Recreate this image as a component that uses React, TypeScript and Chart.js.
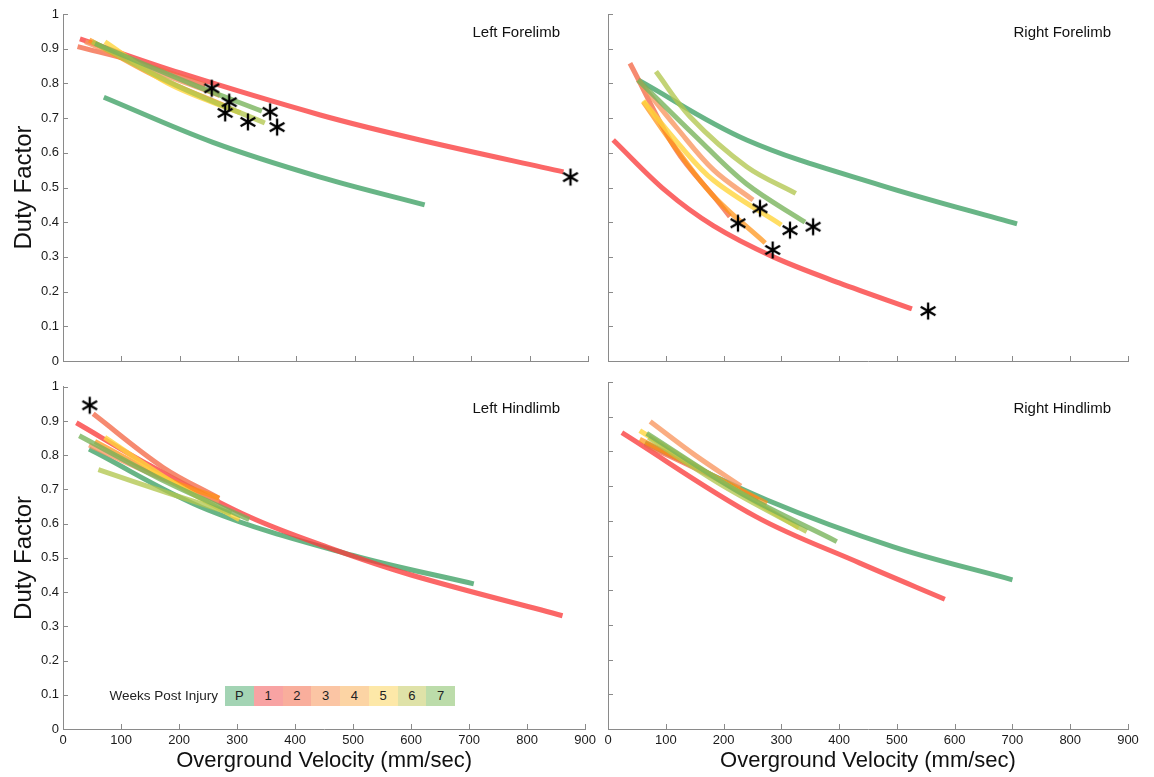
import React, { useEffect, useRef } from 'react';
import { Chart, registerables } from 'chart.js';

Chart.register(...registerables);

const FONT = '"Liberation Sans", Arial, Helvetica, sans-serif';

// ---------- labels / ticks ----------
const WEEKS = ['P', '1', '2', '3', '4', '5', '6', '7'];
const LEGEND_TITLE = 'Weeks Post Injury';
const PANEL_TITLES = ['Left Forelimb', 'Right Forelimb', 'Left Hindlimb', 'Right Hindlimb'];
const X_TITLE = 'Overground Velocity (mm/sec)';
const Y_TITLE = 'Duty Factor';
const X_MIN = 0;
const X_MAX = 900;
const X_STEP = 100;
const Y_MIN = 0;
const Y_MAX = 1;
const Y_STEP = 0.1;

// ---------- Left Forelimb: [velocity, duty factor] ----------
const LF_P = [[70, 0.76], [257, 0.63], [441, 0.53], [620, 0.45]];
const LF_W1 = [[29, 0.928], [201, 0.83], [441, 0.709], [612, 0.637], [858, 0.545]];
const LF_W2 = [[25, 0.906], [130, 0.86], [244, 0.795]];
const LF_W3 = [[38, 0.92], [150, 0.84], [269, 0.765]];
const LF_W4 = [[45, 0.925], [160, 0.82], [278, 0.735]];
const LF_W5 = [[72, 0.92], [180, 0.8], [304, 0.715]];
const LF_W6 = [[50, 0.92], [200, 0.79], [346, 0.686]];
const LF_W7 = [[55, 0.915], [218, 0.8], [341, 0.72]];
const LF_STARS = [[255, 0.786], [285, 0.746], [278, 0.715], [317, 0.689], [355, 0.718], [367, 0.674], [870, 0.53]];

// ---------- Right Forelimb ----------
const RF_P = [[52, 0.81], [240, 0.637], [471, 0.507], [708, 0.395]];
const RF_W1 = [[9, 0.637], [100, 0.49], [182, 0.39], [286, 0.3], [400, 0.225], [526, 0.15]];
const RF_W2 = [[38, 0.858], [118, 0.608], [188, 0.464], [211, 0.416]];
const RF_W3 = [[52, 0.81], [120, 0.67], [183, 0.55], [251, 0.464]];
const RF_W4 = [[61, 0.747], [107, 0.637], [180, 0.48], [272, 0.34]];
const RF_W5 = [[61, 0.75], [120, 0.63], [183, 0.52], [300, 0.392]];
const RF_W6 = [[83, 0.834], [142, 0.704], [240, 0.56], [325, 0.483]];
const RF_W7 = [[52, 0.81], [150, 0.65], [240, 0.51], [341, 0.4]];
const RF_STARS = [[263, 0.44], [225, 0.397], [315, 0.377], [355, 0.387], [285, 0.32], [554, 0.144]];

// ---------- Left Hindlimb ----------
const LH_P = [[45, 0.818], [250, 0.64], [500, 0.507], [708, 0.424]];
const LH_W1 = [[23, 0.895], [150, 0.77], [321, 0.62], [458, 0.53], [600, 0.45], [861, 0.331]];
const LH_W2 = [[52, 0.921], [172, 0.765], [269, 0.674]];
const LH_W3 = [[45, 0.83], [160, 0.74], [269, 0.665]];
const LH_W4 = [[55, 0.84], [180, 0.73], [269, 0.675]];
const LH_W5 = [[72, 0.852], [190, 0.72], [304, 0.612]];
const LH_W6 = [[61, 0.758], [180, 0.69], [290, 0.63]];
const LH_W7 = [[28, 0.857], [180, 0.72], [321, 0.612]];
const LH_STARS = [[46, 0.946]];

// ---------- Right Hindlimb ----------
const RH_P = [[64, 0.825], [275, 0.66], [494, 0.525], [700, 0.43]];
const RH_W1 = [[24, 0.854], [256, 0.612], [436, 0.478], [583, 0.374]];
const RH_W2 = [[64, 0.82], [190, 0.72], [260, 0.66]];
const RH_W3 = [[73, 0.886], [150, 0.79], [230, 0.7]];
const RH_W4 = [[55, 0.835], [170, 0.74], [275, 0.65]];
const RH_W5 = [[55, 0.86], [180, 0.73], [330, 0.58]];
const RH_W6 = [[70, 0.84], [200, 0.7], [344, 0.569]];
const RH_W7 = [[67, 0.852], [230, 0.68], [396, 0.54]];
const RH_STARS: number[][] = [];

// ---------- styles ----------
const LINE_COLORS = [
  'rgba(62,160,100,0.78)',
  'rgba(250,60,60,0.78)',
  'rgba(244,105,72,0.78)',
  'rgba(248,150,95,0.78)',
  'rgba(255,145,20,0.72)',
  'rgba(255,212,60,0.8)',
  'rgba(178,198,80,0.78)',
  'rgba(118,178,88,0.78)',
];
const LEGEND_COLORS = ['#a3d4b4', '#f8a3a3', '#f9ae9c', '#fbc5a4', '#fcd4a4', '#fde8a8', '#dfe2a8', '#bcdcaa'];
const AXIS_COLOR = '#8a8a8a';

const PANELS = [
  { series: [LF_P, LF_W1, LF_W2, LF_W3, LF_W4, LF_W5, LF_W6, LF_W7], stars: LF_STARS, left: 0, top: 0, w: 600, h: 375, padding: { top: 14, right: 12, left: 0, bottom: 0 }, yW: 63, xH: 14, xLabels: false, yLabels: true, titleRight: 560, titleY: 23 },
  { series: [RF_P, RF_W1, RF_W2, RF_W3, RF_W4, RF_W5, RF_W6, RF_W7], stars: RF_STARS, left: 600, top: 0, w: 554, h: 375, padding: { top: 14, right: 26, left: 0, bottom: 0 }, yW: 8, xH: 14, xLabels: false, yLabels: false, titleRight: 1111, titleY: 23 },
  { series: [LH_P, LH_W1, LH_W2, LH_W3, LH_W4, LH_W5, LH_W6, LH_W7], stars: LH_STARS, left: 0, top: 375, w: 600, h: 402, padding: { top: 7, right: 12, left: 0, bottom: 0 }, yW: 63, xH: 48, xLabels: true, yLabels: true, titleRight: 560, titleY: 399 },
  { series: [RH_P, RH_W1, RH_W2, RH_W3, RH_W4, RH_W5, RH_W6, RH_W7], stars: RH_STARS, left: 600, top: 375, w: 554, h: 402, padding: { top: 7, right: 26, left: 0, bottom: 0 }, yW: 8, xH: 48, xLabels: true, yLabels: false, titleRight: 1111, titleY: 399 },
];

function makeAsterisk(): HTMLCanvasElement {
  const c = document.createElement('canvas');
  c.width = 20;
  c.height = 20;
  const ctx = c.getContext('2d')!;
  ctx.strokeStyle = '#000';
  ctx.lineWidth = 2.3;
  ctx.lineCap = 'butt';
  const r = 8.5;
  [90, 30, 150].forEach((deg) => {
    const a = (deg * Math.PI) / 180;
    ctx.beginPath();
    ctx.moveTo(10 - r * Math.cos(a), 10 - r * Math.sin(a));
    ctx.lineTo(10 + r * Math.cos(a), 10 + r * Math.sin(a));
    ctx.stroke();
  });
  return c;
}

const inwardTicks = {
  id: 'inwardTicks',
  afterDraw(chart: any) {
    const { ctx, chartArea, scales } = chart;
    const xs = scales.x;
    const ys = scales.y;
    ctx.save();
    ctx.strokeStyle = AXIS_COLOR;
    ctx.lineWidth = 1;
    ctx.beginPath();
    xs.ticks.forEach((t: any) => {
      const p = Math.round(xs.getPixelForValue(t.value)) + 0.5;
      ctx.moveTo(p, chartArea.bottom);
      ctx.lineTo(p, chartArea.bottom - 5);
    });
    ys.ticks.forEach((t: any) => {
      const p = Math.round(ys.getPixelForValue(t.value)) + 0.5;
      ctx.moveTo(chartArea.left, p);
      ctx.lineTo(chartArea.left + 5, p);
    });
    ctx.stroke();
    ctx.restore();
  },
};

function buildConfig(p: any, star: HTMLCanvasElement): any {
  const lineSets = p.series.map((s: number[][], k: number) => ({
    label: WEEKS[k],
    data: s.map(([x, y]) => ({ x, y })),
    borderColor: LINE_COLORS[k],
    backgroundColor: LINE_COLORS[k],
    borderWidth: 5,
    pointRadius: 0,
    tension: 0.35,
    borderCapStyle: 'butt',
    fill: false,
  }));
  const starSet = {
    label: 'significant',
    data: p.stars.map(([x, y]: number[]) => ({ x, y })),
    showLine: false,
    pointStyle: star,
    pointRadius: 9,
    borderColor: '#000',
    backgroundColor: '#000',
  };
  return {
    type: 'line',
    data: { datasets: [starSet, ...lineSets.reverse()] },
    options: {
      responsive: false,
      animation: false,
      events: [],
      layout: { padding: p.padding, autoPadding: false },
      plugins: { legend: { display: false }, tooltip: { enabled: false }, title: { display: false } },
      scales: {
        x: {
          type: 'linear',
          min: X_MIN,
          max: X_MAX,
          ticks: { stepSize: X_STEP, display: p.xLabels, padding: 4, color: '#1a1a1a', font: { family: FONT, size: 13 }, maxRotation: 0, autoSkip: false },
          grid: { display: false, drawTicks: false },
          border: { display: true, color: AXIS_COLOR, width: 1 },
          title: { display: p.xLabels, text: X_TITLE, color: '#111', font: { family: FONT, size: 22 }, padding: { top: 0, bottom: 3 } },
          afterFit: (s: any) => { s.height = p.xH; },
        },
        y: {
          type: 'linear',
          min: Y_MIN,
          max: Y_MAX,
          ticks: {
            stepSize: Y_STEP,
            display: p.yLabels,
            padding: 4,
            color: '#1a1a1a',
            font: { family: FONT, size: 13 },
            callback: (v: number) => String(Math.round(v * 10) / 10),
          },
          grid: { display: false, drawTicks: false },
          border: { display: true, color: AXIS_COLOR, width: 1 },
          title: { display: p.yLabels, text: Y_TITLE, color: '#111', font: { family: FONT, size: 24 }, padding: { top: 10, bottom: 0 } },
          afterFit: (s: any) => { s.width = p.yW; },
        },
      },
    },
    plugins: [inwardTicks],
  };
}

export default function App() {
  const r0 = useRef<HTMLCanvasElement>(null);
  const r1 = useRef<HTMLCanvasElement>(null);
  const r2 = useRef<HTMLCanvasElement>(null);
  const r3 = useRef<HTMLCanvasElement>(null);
  const refs = [r0, r1, r2, r3];

  useEffect(() => {
    const star = makeAsterisk();
    const charts = PANELS.map((p, i) => new Chart(refs[i].current as HTMLCanvasElement, buildConfig(p, star)));
    return () => charts.forEach((c) => c.destroy());
  }, []);

  const boxW = 28.75;
  return (
    <div style={{ position: 'fixed', left: 0, top: 0, width: 1154, height: 777, background: '#fff', fontFamily: FONT, overflow: 'hidden' }}>
      {PANELS.map((p, i) => (
        <canvas
          key={i}
          ref={refs[i]}
          width={p.w}
          height={p.h}
          style={{ position: 'absolute', left: p.left, top: p.top, width: p.w, height: p.h }}
        />
      ))}
      {PANELS.map((p, i) => (
        <div
          key={'t' + i}
          style={{ position: 'absolute', left: p.titleRight - 200, top: p.titleY, width: 200, textAlign: 'right', fontSize: 15, lineHeight: '18px', color: '#111' }}
        >
          {PANEL_TITLES[i]}
        </div>
      ))}
      <div style={{ position: 'absolute', left: 97, top: 688, width: 121, textAlign: 'right', fontSize: 13.5, lineHeight: '16px', color: '#222' }}>
        {LEGEND_TITLE}
      </div>
      {WEEKS.map((wk, i) => (
        <div
          key={'l' + i}
          style={{ position: 'absolute', left: 225 + i * boxW, top: 686, width: boxW, height: 20, background: LEGEND_COLORS[i], textAlign: 'center', fontSize: 13, lineHeight: '20px', color: '#222' }}
        >
          {wk}
        </div>
      ))}
    </div>
  );
}
